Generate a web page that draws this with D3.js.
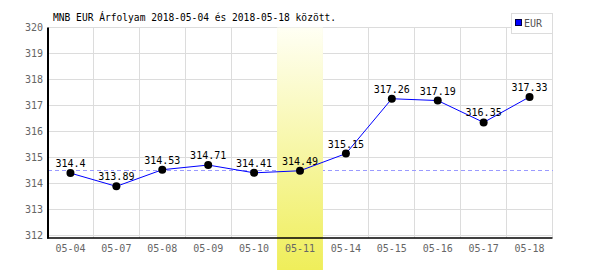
<!DOCTYPE html>
<html>
<head>
<meta charset="utf-8">
<script src="https://cdn.jsdelivr.net/npm/d3@7"></script>
<style>
  body { margin: 0; background: #fff; }
  svg { display: block; }
  text { font-family: "DejaVu Sans Mono", monospace; }
</style>
</head>
<body>
<div id="chart"></div>
<script>
// chart data
const dates = ['05-04', '05-07', '05-08', '05-09', '05-10', '05-11', '05-14', '05-15', '05-16', '05-17', '05-18'];
const rates = [314.4, 313.89, 314.53, 314.71, 314.41, 314.49, 315.15, 317.26, 317.19, 316.35, 317.33];
const yTicks = [312, 313, 314, 315, 316, 317, 318, 319, 320];
const highlightDate = '05-11';
const refRate = 314.49;
const seriesName = 'EUR';
const title = 'MNB EUR Árfolyam 2018-05-04 és 2018-05-18 között.';

const width = 600;
const height = 270;

const svg = d3.select('#chart')
    .append('svg')
    .attr('width', width)
    .attr('height', height);

const x = d3.scaleBand()
    .domain(dates)
    .range([47.5, 552.5])
    .padding(0);

const y = d3.scaleLinear()
    .domain([311.9, 320])
    .range([238.1, 27.5]);

// gradient for the highlighted day
const grad = svg.append('defs').append('linearGradient')
    .attr('id', 'hl')
    .attr('x1', 0).attr('y1', 0)
    .attr('x2', 0).attr('y2', 1);
grad.append('stop').attr('offset', '0%').attr('stop-color', '#fffff4');
grad.append('stop').attr('offset', '100%').attr('stop-color', '#efee5a');

// grid
const grid = svg.append('g')
    .attr('stroke', '#dcdcdc')
    .attr('stroke-width', 1)
    .attr('shape-rendering', 'crispEdges');

grid.selectAll('line.h')
    .data(yTicks)
    .enter()
    .append('line')
        .attr('class', 'h')
        .attr('x1', x.range()[0])
        .attr('x2', x.range()[1])
        .attr('y1', d => y(d))
        .attr('y2', d => y(d));

grid.selectAll('line.v')
    .data(dates.slice(1).map(d => x(d)).concat([x.range()[1]]))
    .enter()
    .append('line')
        .attr('class', 'v')
        .attr('x1', d => d)
        .attr('x2', d => d)
        .attr('y1', y(320))
        .attr('y2', y.range()[0]);

// reference line
svg.append('line')
    .attr('x1', x.range()[0])
    .attr('x2', x.range()[1])
    .attr('y1', y(refRate))
    .attr('y2', y(refRate))
    .attr('stroke', '#9a9aff')
    .attr('stroke-dasharray', '4,3')
    .attr('shape-rendering', 'crispEdges');

// highlighted day band
svg.append('rect')
    .attr('x', x(highlightDate))
    .attr('y', y(320))
    .attr('width', x.bandwidth())
    .attr('height', height - y(320))
    .attr('fill', 'url(#hl)');

// axes
svg.append('line')
    .attr('x1', 48).attr('x2', 48)
    .attr('y1', y(320)).attr('y2', y.range()[0] + 0.5)
    .attr('stroke', '#000')
    .attr('stroke-width', 2);

svg.append('line')
    .attr('x1', 47).attr('x2', x.range()[1])
    .attr('y1', y.range()[0]).attr('y2', y.range()[0])
    .attr('stroke', '#000')
    .attr('stroke-width', 1.5);

// tick labels
svg.selectAll('text.ytick')
    .data(yTicks)
    .enter()
    .append('text')
        .attr('class', 'ytick')
        .attr('x', 43)
        .attr('y', d => y(d) + 3.5)
        .attr('text-anchor', 'end')
        .attr('font-size', 10)
        .attr('fill', '#666')
        .text(d => d);

svg.selectAll('text.xtick')
    .data(dates)
    .enter()
    .append('text')
        .attr('class', 'xtick')
        .attr('x', d => x(d) + x.bandwidth() / 2)
        .attr('y', 252)
        .attr('text-anchor', 'middle')
        .attr('font-size', 10)
        .attr('fill', '#666')
        .text(d => d);

// the line
const line = d3.line()
    .x((d, i) => x(dates[i]) + x.bandwidth() / 2)
    .y(d => y(d));

svg.append('path')
    .datum(rates)
    .attr('d', line)
    .attr('fill', 'none')
    .attr('stroke', '#0000ff')
    .attr('stroke-width', 1);

svg.selectAll('circle')
    .data(rates)
    .enter()
    .append('circle')
        .attr('cx', (d, i) => x(dates[i]) + x.bandwidth() / 2)
        .attr('cy', d => y(d))
        .attr('r', 4)
        .attr('fill', '#000');

svg.selectAll('text.val')
    .data(rates)
    .enter()
    .append('text')
        .attr('class', 'val')
        .attr('x', (d, i) => x(dates[i]) + x.bandwidth() / 2)
        .attr('y', d => y(d) - 6)
        .attr('text-anchor', 'middle')
        .attr('font-size', 10)
        .attr('fill', '#000')
        .text(d => d);

// title
svg.append('text')
    .attr('x', 53)
    .attr('y', 20.5)
    .attr('font-size', 9.6)
    .attr('fill', '#000')
    .text(title);

// legend
const legend = svg.append('g');
legend.append('rect')
    .attr('x', 511.5).attr('y', 13.5)
    .attr('width', 41).attr('height', 20)
    .attr('fill', '#fff')
    .attr('stroke', '#dcdcdc');
legend.append('rect')
    .attr('x', 515.5).attr('y', 19.5)
    .attr('width', 6).attr('height', 6)
    .attr('fill', '#0000ff')
    .attr('stroke', '#000040');
legend.append('text')
    .attr('x', 524)
    .attr('y', 27)
    .attr('font-size', 10)
    .attr('fill', '#555')
    .text(seriesName);
</script>
</body>
</html>
